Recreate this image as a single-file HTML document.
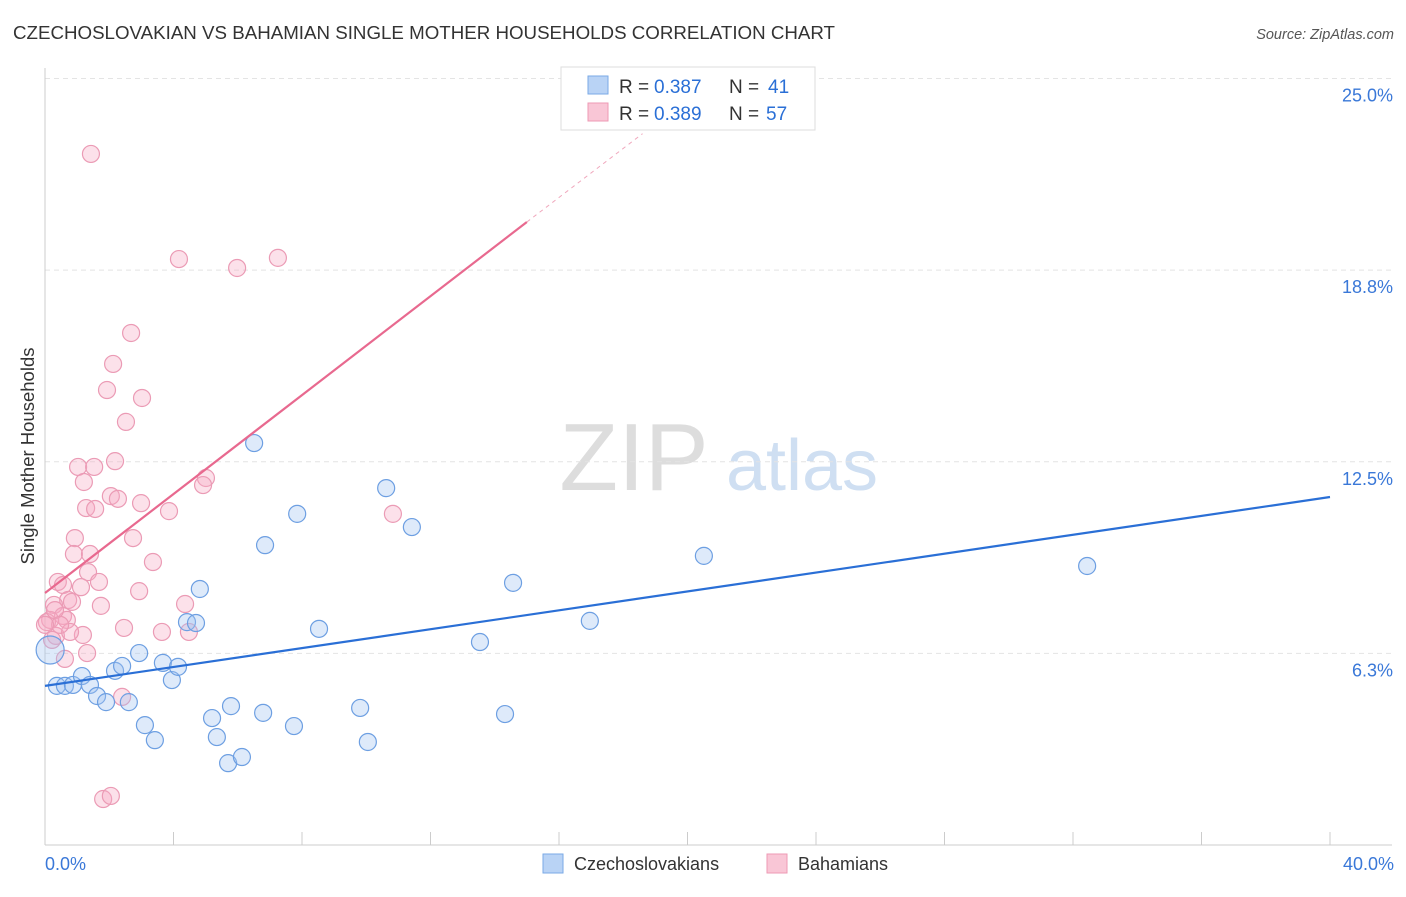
<!DOCTYPE html>
<html><head><meta charset="utf-8"><style>
body{margin:0;background:#fff;font-family:"Liberation Sans",sans-serif}
svg text{font-family:"Liberation Sans",sans-serif}
</style></head><body>
<svg id="c" width="1406" height="892" viewBox="0 0 1406 892">
<text x="13" y="39" font-size="18" fill="#333" textLength="822" lengthAdjust="spacingAndGlyphs">CZECHOSLOVAKIAN VS BAHAMIAN SINGLE MOTHER HOUSEHOLDS CORRELATION CHART</text>
<text x="1394" y="39" font-size="14.5" fill="#555" font-style="italic" text-anchor="end">Source: ZipAtlas.com</text>
<text x="0" y="0" transform="translate(34,456) rotate(-90)" font-size="18.5" fill="#333" text-anchor="middle">Single Mother Households</text>
<g><text x="634" y="490" font-size="96" fill="#ddd" font-family="Liberation Serif" text-anchor="middle">ZIP</text><text x="802" y="490" font-size="72" fill="#cfdff2" text-anchor="middle">atlas</text></g>
<g id="grid"></g><g id="marks"></g>
<g>
<rect x="561" y="67" width="254" height="63" fill="#fff" stroke="#ddd"/>
<rect x="588" y="76" width="20" height="18" fill="#b9d3f5" stroke="#7aaae6"/>
<text x="619" y="93" font-size="19" fill="#333">R =</text><text x="654" y="93" font-size="19" fill="#2a6fd6">0.387</text>
<text x="729" y="93" font-size="19" fill="#333">N =</text><text x="768" y="93" font-size="19" fill="#2a6fd6">41</text>
<rect x="588" y="103" width="20" height="18" fill="#f9c6d6" stroke="#ee9ab4"/>
<text x="619" y="120" font-size="19" fill="#333">R =</text><text x="654" y="120" font-size="19" fill="#2a6fd6">0.389</text>
<text x="729" y="120" font-size="19" fill="#333">N =</text><text x="766" y="120" font-size="19" fill="#2a6fd6">57</text>
</g>
<g>
<rect x="543" y="854" width="20" height="19" fill="#b9d3f5" stroke="#7aaae6"/>
<text x="574" y="870" font-size="18" fill="#333">Czechoslovakians</text>
<rect x="767" y="854" width="20" height="19" fill="#f9c6d6" stroke="#ee9ab4"/>
<text x="798" y="870" font-size="18" fill="#333">Bahamians</text>
</g>
</svg>
<script>
const yTicks=[6.25,12.5,18.75,25];
const yTickLabels=["6.3%","12.5%","18.8%","25.0%"];
const xTickLabels=["0.0%","40.0%"];
const blueX=[0.37,0.62,0.87,1.15,1.40,1.62,1.90,2.18,2.40,2.61,2.93,3.11,3.42,3.67,3.95,4.14,4.42,4.70,4.82,5.20,5.35,5.70,5.79,6.13,6.51,6.79,6.85,7.75,7.85,8.53,9.81,10.05,10.62,11.42,13.54,14.32,14.57,16.96,20.51,32.44,0.16];
const blueY=[5.19,5.19,5.22,5.51,5.22,4.86,4.66,5.68,5.84,4.66,6.26,3.91,3.42,5.94,5.38,5.81,7.27,7.24,8.35,4.14,3.52,2.67,4.53,2.87,13.11,4.31,9.78,3.88,10.80,7.05,4.47,3.36,11.64,10.37,6.62,4.27,8.55,7.31,9.43,9.10,6.36];
const pinkX=[1.43,4.17,5.98,7.25,2.68,2.12,1.93,3.02,2.52,1.03,1.53,2.18,1.21,2.05,2.27,2.99,1.28,1.56,3.86,5.01,4.92,10.83,0.93,2.74,0.90,1.40,3.36,1.34,0.40,0.56,1.68,1.12,2.93,0.72,0.84,1.74,4.36,0.28,0.56,0.16,0.68,0.06,2.46,3.64,4.48,1.18,0.34,0.78,0.22,1.31,0.62,2.40,1.81,2.05,0.31,0.47,0.00];
const pinkY=[22.54,19.11,18.82,19.15,16.70,15.69,14.84,14.58,13.80,12.33,12.33,12.52,11.84,11.38,11.29,11.15,10.99,10.96,10.89,11.97,11.74,10.80,10.01,10.01,9.49,9.49,9.23,8.90,8.58,8.48,8.58,8.41,8.28,7.99,7.93,7.80,7.86,7.83,7.47,7.34,7.34,7.27,7.08,6.95,6.95,6.85,6.82,6.95,6.69,6.26,6.07,4.83,1.50,1.60,7.66,7.18,7.18];
const blueLine=[[0,5.19],[40,11.35]];
const pinkLine=[[0,8.22],[15,20.32]];
const pinkDash=[[15,20.32],[18.6,23.2]];
const X=v=>45+v/40*1285, Y=v=>845-v*30.66;
const NS="http://www.w3.org/2000/svg";
const grid=document.getElementById('grid'), marks=document.getElementById('marks');
function mk(p,tag,at){const e=document.createElementNS(NS,tag);for(const k in at)e.setAttribute(k,at[k]);p.appendChild(e);return e;}
yTicks.forEach((t,i)=>{
 const g=mk(grid,'line',{x1:45,x2:1392,y1:Y(t),y2:Y(t),stroke:'#e4e4e4','stroke-dasharray':'5,4'});
 
 
 const tx=mk(grid,'text',{x:1393,y:Y(t)+23,'font-size':18,fill:'#3a78d8','text-anchor':'end'});
 tx.textContent=yTickLabels[i];
 
 
});
const ax=mk(grid,'line',{x1:45,x2:1392,y1:845,y2:845,stroke:'#ccc'});


const ay=mk(grid,'line',{x1:45,x2:45,y1:68,y2:845,stroke:'#ccc'});


for(let i=0;i<=10;i++){const t=mk(grid,'line',{x1:X(i*4),x2:X(i*4),y1:832,y2:845,stroke:'#ccc'});
 
 }
const xl0=mk(grid,'text',{x:45,y:870,'font-size':18,fill:'#3a78d8'});xl0.textContent=xTickLabels[0];


const xl1=mk(grid,'text',{x:1394,y:870,'font-size':18,fill:'#3a78d8','text-anchor':'end'});xl1.textContent=xTickLabels[1];


pinkX.forEach((v,i)=>{const c=mk(marks,'circle',{cx:X(v),cy:Y(pinkY[i]),r:8.5,fill:'rgba(245,170,195,0.35)',stroke:'#eb9bb5','stroke-width':1.2});
 
 });
blueX.forEach((v,i)=>{const c=mk(marks,'circle',{cx:X(v),cy:Y(blueY[i]),r:i==blueX.length-1?14:8.5,fill:'rgba(160,195,240,0.35)',stroke:'#6d9fe2','stroke-width':1.2});
 
 });
const bl=mk(marks,'line',{x1:X(blueLine[0][0]),y1:Y(blueLine[0][1]),x2:X(blueLine[1][0]),y2:Y(blueLine[1][1]),stroke:'#2a6fd6','stroke-width':2.2});


const pl=mk(marks,'line',{x1:X(pinkLine[0][0]),y1:Y(pinkLine[0][1]),x2:X(pinkLine[1][0]),y2:Y(pinkLine[1][1]),stroke:'#e8698f','stroke-width':2.2});


const pd=mk(marks,'line',{x1:X(pinkDash[0][0]),y1:Y(pinkDash[0][1]),x2:X(pinkDash[1][0]),y2:Y(pinkDash[1][1]),stroke:'#f0a8bd','stroke-width':1,'stroke-dasharray':'4,4'});


</script>
</body></html>
